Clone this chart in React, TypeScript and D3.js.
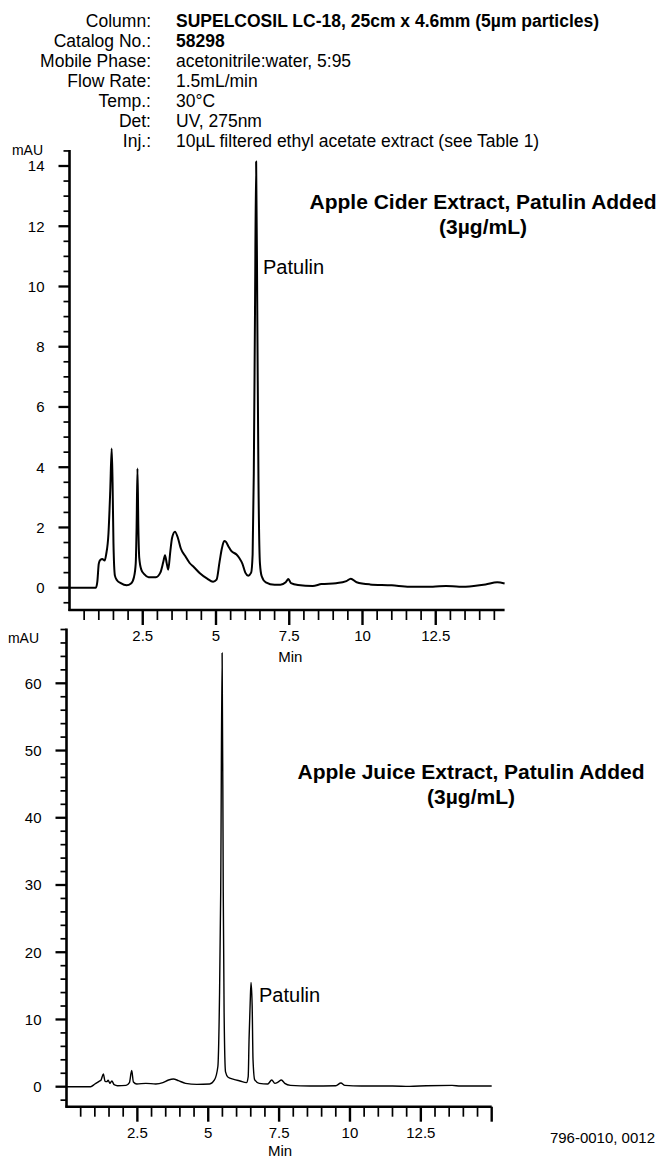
import React, { useMemo } from "react";
import * as d3 from "d3";

// header block
const headerLabels = ["Column:", "Catalog No.:", "Mobile Phase:", "Flow Rate:", "Temp.:", "Det:", "Inj.:"];
const headerValues = [
  "SUPELCOSIL LC-18, 25cm x 4.6mm (5µm particles)",
  "58298",
  "acetonitrile:water, 5:95",
  "1.5mL/min",
  "30°C",
  "UV, 275nm",
  "10µL filtered ethyl acetate extract (see Table 1)",
];
const headerBold = [true, true, false, false, false, false, false];

// apple cider extract trace (min, mAU)
const ciderTime = [
  0, 0.9, 0.95, 1.0, 1.05, 1.12, 1.2, 1.25, 1.33, 1.39, 1.44, 1.47, 1.5, 1.55, 1.62, 1.75, 1.95,
  2.1, 2.2, 2.26, 2.29, 2.32, 2.35, 2.38, 2.45, 2.55, 2.7, 2.95, 3.1, 3.2, 3.26, 3.32, 3.37, 3.44,
  3.5, 3.6, 3.7, 3.8, 3.95, 4.1, 4.25, 4.45, 4.7, 4.9, 5.02, 5.12, 5.2, 5.28, 5.34, 5.42, 5.52,
  5.7, 5.8, 5.9, 6.0, 6.1, 6.2, 6.25, 6.29, 6.33, 6.37, 6.41, 6.45, 6.5, 6.56, 6.7, 7.0, 7.2,
  7.38, 7.47, 7.56, 7.8, 8.3, 8.6, 9.1, 9.45, 9.6, 9.8, 10.25, 11.0, 11.6, 12.4, 12.85, 13.3,
  13.8, 14.2, 14.6, 14.85,
];
const ciderMau = [
  0, 0, 0.2, 0.8, 0.92, 0.95, 0.9, 1.1, 1.8, 3.2, 4.62, 3.5, 1.5, 0.4, 0.25, 0.15, 0.08,
  0.14, 0.35, 0.8, 2.0, 3.96, 2.0, 1.0, 0.6, 0.45, 0.35, 0.35, 0.5, 0.85, 1.08, 0.8, 0.6, 1.2,
  1.65, 1.86, 1.65, 1.3, 1.05, 0.82, 0.68, 0.48, 0.3, 0.2, 0.27, 0.85, 1.3, 1.55, 1.52, 1.38, 1.22,
  1.1, 0.98, 0.8, 0.5, 0.4, 0.5, 1.1, 3.8, 9, 14.15, 9, 3.5, 0.8, 0.38, 0.18, 0.1, 0.1,
  0.18, 0.29, 0.15, 0.09, 0.06, 0.12, 0.15, 0.22, 0.3, 0.18, 0.11, 0.08, 0.03, 0.03, 0.06, 0.03,
  0.06, 0.11, 0.18, 0.14,
];

// apple juice extract trace (min, mAU)
const juiceTime = [
  0, 0.85, 1.0, 1.15, 1.22, 1.3, 1.36, 1.42, 1.47, 1.53, 1.6, 1.68, 1.8, 2.1, 2.22, 2.3, 2.36,
  2.48, 2.8, 3.15, 3.4, 3.6, 3.77, 3.95, 4.2, 4.6, 5.05, 5.22, 5.34, 5.4, 5.44, 5.49, 5.53, 5.56,
  5.61, 5.7, 5.9, 6.12, 6.35, 6.41, 6.44, 6.48, 6.51, 6.55, 6.58, 6.64, 6.8, 7.1, 7.24, 7.35,
  7.47, 7.58, 7.7, 7.9, 8.6, 9.5, 9.68, 9.82, 10.4, 11.5, 12.1, 12.7, 13.6, 13.9, 15,
];
const juiceMau = [
  0, 0, 0.4, 0.8, 1.0, 1.9, 0.8, 0.75, 0.95, 0.5, 0.85, 0.3, 0.15, 0.2, 0.6, 2.4, 0.7,
  0.4, 0.5, 0.4, 0.6, 1.0, 1.15, 0.9, 0.5, 0.35, 0.4, 1.0, 3.0, 14, 29, 64.5, 29, 11,
  2.2, 1.4, 1.1, 0.85, 0.6, 1.5, 7, 12.5, 15.5, 12, 4, 1.0, 0.5, 0.4, 1.0, 0.5,
  0.7, 1.0, 0.5, 0.2, 0.1, 0.15, 0.55, 0.2, 0.1, 0.1, 0.05, 0.15, 0.2, 0.1, 0.1,
];

// axis labels
const xTickLabels = [2.5, 5, 7.5, 10, 12.5];
const ciderYTicks = [0, 2, 4, 6, 8, 10, 12, 14];
const juiceYTicks = [0, 10, 20, 30, 40, 50, 60];

const FONT = "'Liberation Sans', Arial, Helvetica, sans-serif";

const Chromatogram = ({
  time, mau, xDomain, xRange, yDomain, yRange,
  yAxisMax, yMinorStep, yMajorStep, yLabels, xMaxTick, xAxisY, minY,
  lineWidth, title, titleX, titleY, peakLabelX, peakLabelY, mauX, mauY,
}) => {
  const x = useMemo(() => d3.scaleLinear().domain(xDomain).range(xRange), [])
  const y = useMemo(() => d3.scaleLinear().domain(yDomain).range(yRange), [])

  const line = d3.line()
    .x(d => x(d[0]))
    .y(d => y(d[1]))
    .curve(d3.curveMonotoneX)
  const path = line(time.map((t, i) => [t, mau[i]]))

  // minor ticks every step, the long ones on the labelled values
  const yTicks = d3.range(-yMinorStep, yAxisMax + 1e-6, yMinorStep)
  const xTicks = d3.range(0.5, xMaxTick + 1e-6, 0.5)
  const x0 = xRange[0]

  return (
    <g>
      {/* trace */}
      <path d={path} fill="none" stroke="#000" strokeWidth={lineWidth} strokeLinejoin="round" />

      {/* y axis */}
      <line x1={x0} x2={x0} y1={y(yAxisMax) - 1} y2={xAxisY + 1} stroke="#000" strokeWidth={2.6} />
      {yTicks.map(v => {
        const major = Math.abs(v % yMajorStep) < 1e-6
        return (
          <line key={v} x1={x0 - (major ? 11 : 6)} x2={x0} y1={y(v)} y2={y(v)}
            stroke="#000" strokeWidth={major ? 2.3 : 1.7} />
        )
      })}
      {yLabels.map(v => (
        <text key={v} x={x0 - 25} y={y(v)} dy="0.36em" textAnchor="end"
          fontSize={15} fontFamily={FONT}>{v}</text>
      ))}
      <text x={mauX} y={mauY} textAnchor="end" fontSize={14} fontFamily={FONT}>mAU</text>

      {/* x axis */}
      <line x1={x0 - 1} x2={xRange[1]} y1={xAxisY} y2={xAxisY} stroke="#000" strokeWidth={2.6} />
      {xTicks.map(v => {
        const major = Math.abs(v % 2.5) < 1e-6
        return (
          <line key={v} x1={x(v)} x2={x(v)} y1={xAxisY} y2={xAxisY + (major ? 15 : 10)}
            stroke="#000" strokeWidth={major ? 2.4 : 1.7} />
        )
      })}
      {xTickLabels.map(v => (
        <text key={v} x={x(v)} y={xAxisY + 31} textAnchor="middle"
          fontSize={15} fontFamily={FONT}>{v}</text>
      ))}
      <text x={x(7.5) + 1} y={minY} textAnchor="middle" fontSize={15} fontFamily={FONT}>Min</text>

      {/* annotations */}
      <text x={peakLabelX} y={peakLabelY} fontSize={20} fontFamily={FONT}>Patulin</text>
      <text x={titleX} y={titleY} textAnchor="middle" fontSize={21} fontWeight="bold" fontFamily={FONT}>
        {title}
      </text>
      <text x={titleX} y={titleY + 25} textAnchor="middle" fontSize={21} fontWeight="bold" fontFamily={FONT}>
        (3µg/mL)
      </text>
    </g>
  )
}

export default function App() {
  return (
    <svg width={660} height={1158} viewBox="0 0 660 1158"
      style={{ position: "absolute", left: 0, top: 0, background: "#fff" }}>
      {headerLabels.map((label, i) => (
        <g key={label}>
          <text x={151} y={27 + i * 20} textAnchor="end" fontSize={17.5} fontFamily={FONT}>{label}</text>
          <text x={176} y={27 + i * 20} fontSize={17.5} fontFamily={FONT}
            fontWeight={headerBold[i] ? "bold" : "normal"}>{headerValues[i]}</text>
        </g>
      ))}

      <Chromatogram
        time={ciderTime} mau={ciderMau}
        xDomain={[0, 14.85]} xRange={[69.5, 504.6]}
        yDomain={[0, 14]} yRange={[587.7, 166]}
        yAxisMax={14.5} yMinorStep={0.5} yMajorStep={2} yLabels={ciderYTicks}
        xMaxTick={14.5} xAxisY={610} minY={662}
        lineWidth={2}
        title="Apple Cider Extract, Patulin Added" titleX={483} titleY={209}
        peakLabelX={263} peakLabelY={274}
        mauX={43} mauY={155}
      />

      <Chromatogram
        time={juiceTime} mau={juiceMau}
        xDomain={[0, 15]} xRange={[66.5, 491.7]}
        yDomain={[0, 60]} yRange={[1086.7, 683.3]}
        yAxisMax={68} yMinorStep={2} yMajorStep={10} yLabels={juiceYTicks}
        xMaxTick={15} xAxisY={1106.7} minY={1156}
        lineWidth={1.4}
        title="Apple Juice Extract, Patulin Added" titleX={471} titleY={779}
        peakLabelX={259} peakLabelY={1002}
        mauX={39} mauY={643}
      />

      <text x={655} y={1143} textAnchor="end" fontSize={15} fontFamily={FONT}>796-0010, 0012</text>
    </svg>
  )
}
